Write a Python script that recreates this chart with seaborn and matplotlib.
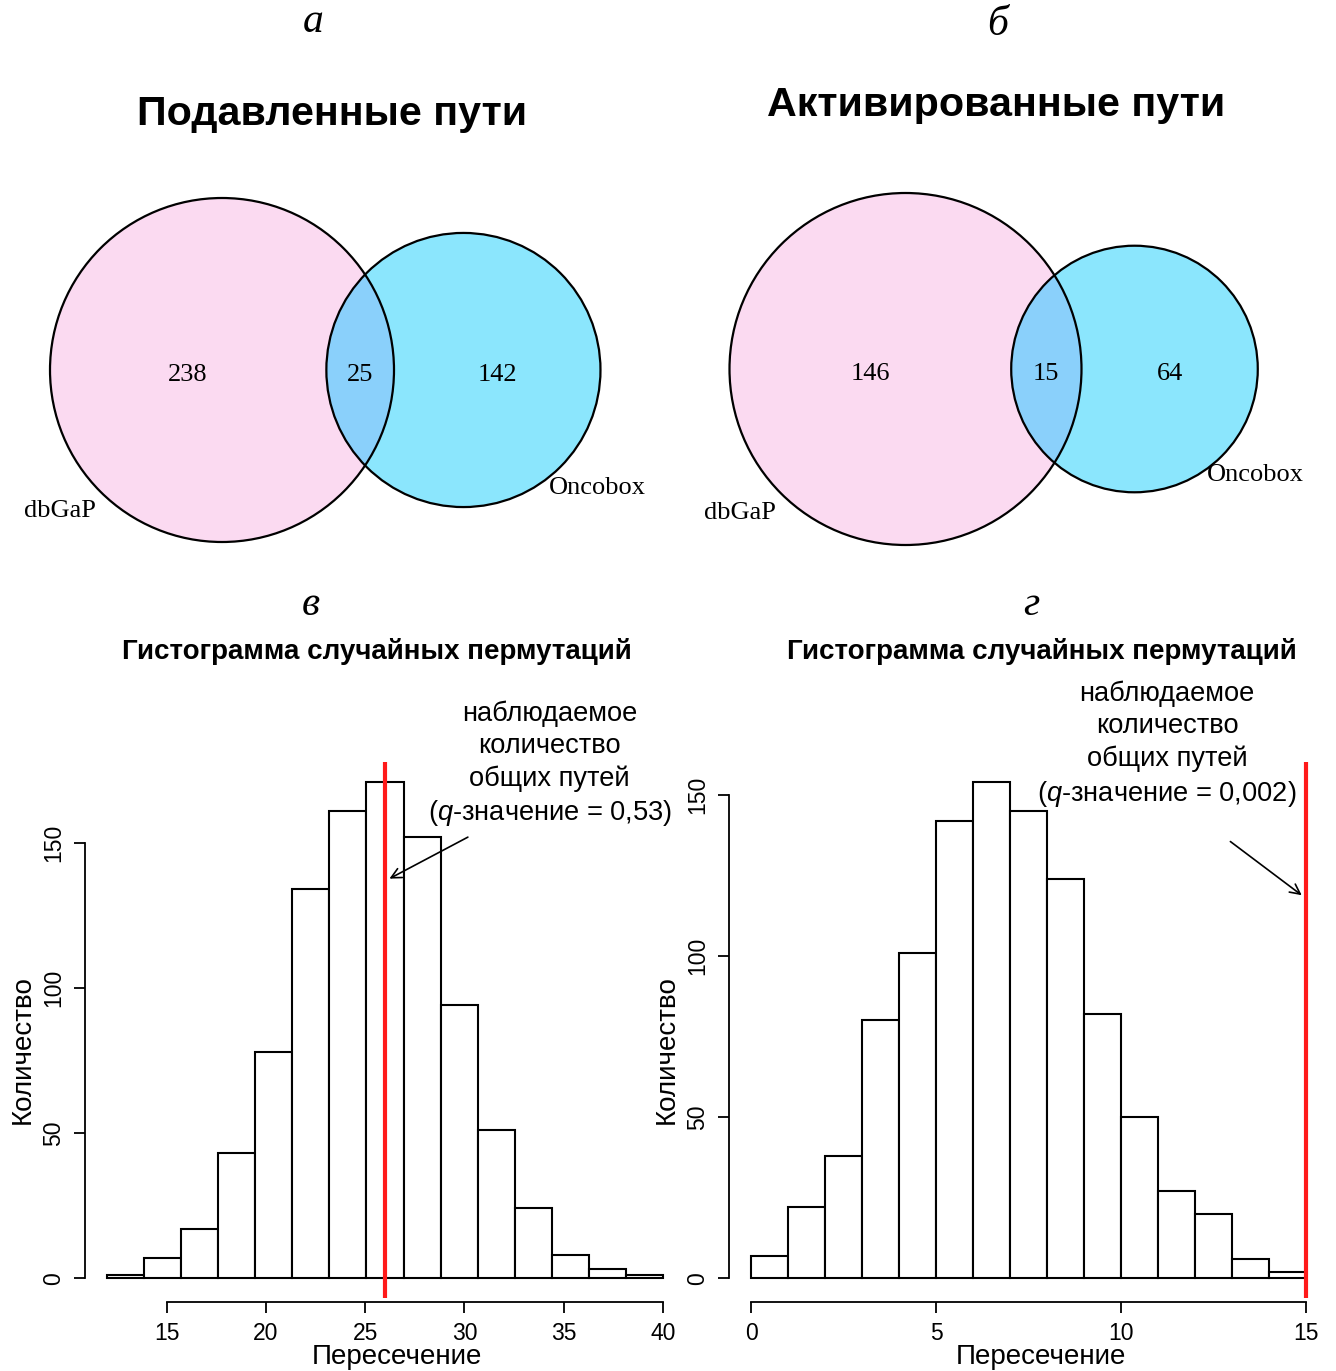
import numpy as np
import pandas as pd
import matplotlib
matplotlib.use("Agg")
import matplotlib.pyplot as plt
from matplotlib.patches import Circle
import seaborn as sns

# Venn counts: (only A, both, only B)
venn_sets = ["dbGaP", "Oncobox"]
down_counts = [238, 25, 142]
up_counts = [146, 15, 64]

# permutation histograms
perm_down_edges = [12.0, 13.867, 15.733, 17.6, 19.467, 21.333, 23.2, 25.067,
                   26.933, 28.8, 30.667, 32.533, 34.4, 36.267, 38.133, 40.0]
perm_down_counts = [1, 7, 17, 43, 78, 134, 161, 171, 152, 94, 51, 24, 8, 3, 1]
observed_down = 26
perm_up_edges = list(range(0, 16))
perm_up_counts = [7, 22, 38, 80, 101, 142, 154, 145, 124, 82, 50, 27, 20, 6, 2]
observed_up = 15

sns.set_theme(style="white")
SANS = ["Liberation Sans", "DejaVu Sans"]
SERIF = ["Liberation Serif", "DejaVu Serif"]
plt.rcParams["font.family"] = SANS
plt.rcParams["mathtext.fontset"] = "custom"
plt.rcParams["mathtext.it"] = "Liberation Sans:italic"
plt.rcParams["mathtext.rm"] = "Liberation Sans"
plt.rcParams["text.color"] = "black"
plt.rcParams["axes.labelcolor"] = "black"

W, H = 1336, 1371
fig = plt.figure(figsize=(W / 100, H / 100), dpi=100)
fig.patch.set_facecolor("white")

PINK = "#fbdaf1"
CYAN = "#8be6fd"
OVERLAP = "#8ad0fb"


def lens_area(r1, r2, d):
    a1 = np.arccos((d * d + r1 * r1 - r2 * r2) / (2 * d * r1))
    a2 = np.arccos((d * d + r2 * r2 - r1 * r1) / (2 * d * r2))
    k = (-d + r1 + r2) * (d + r1 - r2) * (d - r1 + r2) * (d + r1 + r2)
    return r1 * r1 * a1 + r2 * r2 * a2 - 0.5 * np.sqrt(k)


def venn(box, center_px, radius_px, counts):
    only_a, both, only_b = counts
    r1 = np.sqrt((only_a + both) / np.pi)
    r2 = np.sqrt((only_b + both) / np.pi)
    lo, hi = abs(r1 - r2) + 1e-9, r1 + r2 - 1e-9
    for _ in range(80):
        mid = (lo + hi) / 2
        if lens_area(r1, r2, mid) > both:
            lo = mid
        else:
            hi = mid
    d = (lo + hi) / 2

    x0, y0, w, h = box
    s = radius_px / r1
    cx, cy = center_px
    ax = fig.add_axes([x0 / W, 1 - (y0 + h) / H, w / W, h / H])
    ax.set_xlim((x0 - cx) / s, (x0 + w - cx) / s)
    ax.set_ylim((cy - y0 - h) / s, (cy - y0) / s)
    ax.axis("off")

    ax.add_patch(Circle((0, 0), r1, facecolor=PINK, edgecolor="none"))
    cb = Circle((d, 0), r2, facecolor=CYAN, edgecolor="none")
    ax.add_patch(cb)
    inter = Circle((0, 0), r1, facecolor=OVERLAP, edgecolor="none")
    ax.add_patch(inter)
    inter.set_clip_path(cb)
    ax.add_patch(Circle((0, 0), r1, facecolor="none", edgecolor="black", lw=1.6))
    ax.add_patch(Circle((d, 0), r2, facecolor="none", edgecolor="black", lw=1.6))

    fs = 19
    ty = -5 / s
    ax.text((-r1 + d - r2) / 2, ty, str(only_a), ha="center", va="center", fontsize=fs, family=SERIF)
    ax.text((d - r2 + r1) / 2, ty, str(both), ha="center", va="center", fontsize=fs, family=SERIF)
    ax.text((r1 + d + r2) / 2, ty, str(only_b), ha="center", va="center", fontsize=fs, family=SERIF)
    ang = np.deg2rad(220)
    ax.text(1.23 * r1 * np.cos(ang), 1.23 * r1 * np.sin(ang) + ty, venn_sets[0],
            ha="center", va="center", fontsize=fs, family=SERIF)
    ang = np.deg2rad(-40)
    ax.text(d + 1.28 * r2 * np.cos(ang), 1.28 * r2 * np.sin(ang) + ty, venn_sets[1],
            ha="center", va="center", fontsize=fs, family=SERIF)
    return ax


venn((0, 150, 668, 410), (222, 370), 172, down_counts)
venn((668, 150, 668, 410), (905.5, 369), 176, up_counts)

fig.text(332 / W, 1 - 114 / H, "Подавленные пути", ha="center", va="center",
         fontsize=29.7, fontweight="bold")
fig.text(996 / W, 1 - 105 / H, "Активированные пути", ha="center", va="center",
         fontsize=29.7, fontweight="bold")
for x, y, t in [(313, 22, "а"), (998, 25, "б"), (311, 605, "в"), (1031, 605, "г")]:
    fig.text(x / W, 1 - y / H, t, ha="center", va="center", fontsize=30,
             style="italic", family=SERIF)


def hist_panel(rect, edges, counts, observed, xticks, yspan, title, title_x,
               note, text_xy, arrow, xlab_x):
    ax = fig.add_axes(rect)
    centers = [(a + b) / 2 for a, b in zip(edges[:-1], edges[1:])]
    df = pd.DataFrame({"x": centers, "n": counts})
    sns.histplot(data=df, x="x", weights="n", bins=list(edges), color="white",
                 edgecolor="black", linewidth=1.5, alpha=1, ax=ax)
    ax.axvline(observed, color="#ff1a1a", lw=3, zorder=5)
    span = edges[-1] - edges[0]
    ax.set_xlim(edges[0] - 0.04 * span, edges[-1] + 0.04 * span)
    top = max(counts)
    ax.set_ylim(-0.04 * top, top * 1.04)
    ax.set_xticks(xticks)
    ax.set_yticks(yspan)
    ax.set_yticklabels([str(v) for v in yspan], rotation=90, va="center")
    for sp in ["top", "right"]:
        ax.spines[sp].set_visible(False)
    ax.spines["left"].set_bounds(yspan[0], yspan[-1])
    ax.spines["bottom"].set_bounds(xticks[0], xticks[-1])
    for sp in ["left", "bottom"]:
        ax.spines[sp].set_color("black")
        ax.spines[sp].set_linewidth(1.3)
    ax.spines["bottom"].set_position(("outward", 3))
    ax.tick_params(axis="both", direction="out", length=8, width=1.3, colors="black",
                   labelsize=16.5, left=True, bottom=True, pad=6)
    ax.set_xlabel("Пересечение", fontsize=20)
    ax.set_ylabel("Количество", fontsize=20)
    ax.xaxis.set_label_coords(xlab_x, -0.086)
    ax.yaxis.set_label_coords(-0.082, 0.463)
    ax.text(title_x, 1.207, title, transform=ax.transAxes, ha="center", va="center",
            fontsize=20, fontweight="bold")
    ax.grid(False)
    ax.text(text_xy[0], text_xy[1], note, ha="center", va="center", fontsize=19.6,
            clip_on=False, linespacing=1.3)
    ax.annotate("", xy=arrow[1], xytext=arrow[0],
                arrowprops=dict(arrowstyle="->", color="black", lw=1.2,
                                mutation_scale=18), annotation_clip=False)
    return ax


title = "Гистограмма случайных пермутаций"
hist_panel([85 / W, 1 - 1298 / H, 600 / W, 536 / H], perm_down_edges, perm_down_counts,
           observed_down, [15, 20, 25, 30, 35, 40], [0, 50, 100, 150], title, 0.487,
           "наблюдаемое\nколичество\nобщих путей\n($\\it{q}$-значение = 0,53)",
           (34.3, 177), ((30.3, 152.4), (26.1, 137.2)), 0.52)
hist_panel([729 / W, 1 - 1298 / H, 599 / W, 536 / H], perm_up_edges, perm_up_counts,
           observed_up, [0, 5, 10, 15], [0, 50, 100, 150], title, 0.5225,
           "наблюдаемое\nколичество\nобщих путей\n($\\it{q}$-значение = 0,002)",
           (11.25, 165.5), ((12.9, 136), (14.95, 118.3)), 0.521)

fig.savefig("out.png", dpi=100, facecolor="white")
